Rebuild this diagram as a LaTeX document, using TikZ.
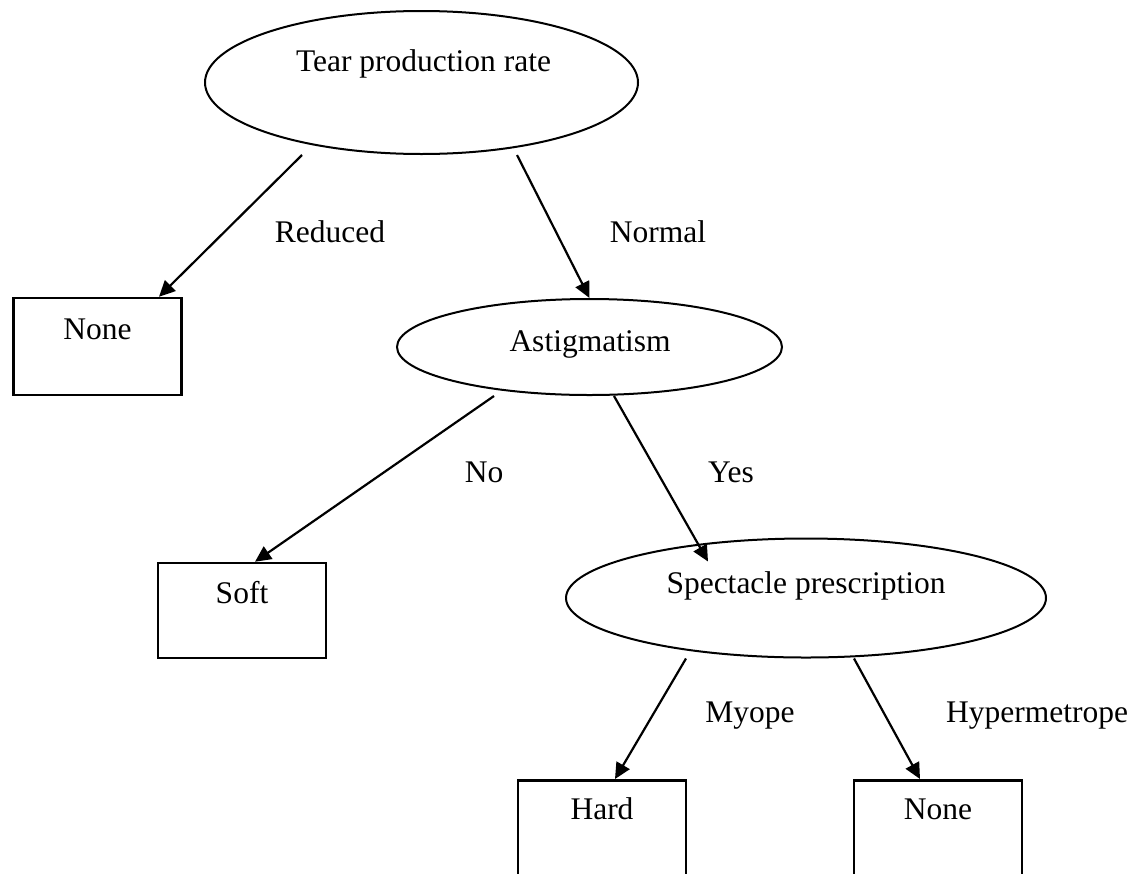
\documentclass[tikz,border=0pt]{standalone}
\usepackage{fontspec}
\setmainfont{Liberation Serif}
\usetikzlibrary{shapes.geometric,arrows.meta,calc}
\begin{document}
\begin{tikzpicture}[x=1pt,y=-1pt,
  decision/.style={ellipse,draw,line width=2pt,inner sep=0pt},
  leaf/.style={rectangle,draw,line width=2.5pt,inner sep=0pt,minimum width=168pt},
  txt/.style={anchor=base,inner sep=0pt,font=\fontsize{31.5}{38}\selectfont},
  branch/.style={line width=2.2pt,-{Triangle[length=16pt,width=15pt]}}]
\useasboundingbox (0,0) rectangle (1147,873);
\fill[white] (0,0) rectangle (1147,873);
\clip (0,0) rectangle (1147,873);
% decision nodes
\node[decision,minimum width=433pt,minimum height=143pt] (tear) at (421.5,82.5) {};
\node[decision,minimum width=385pt,minimum height=96pt] (astig) at (589.5,347) {};
\node[decision,minimum width=480pt,minimum height=119pt] (spec) at (806,598) {};
% leaves
\node[leaf,minimum height=97pt] (none1) at (97.5,346.5) {};
\node[leaf,minimum height=95pt] (soft) at (242,610.5) {};
\node[leaf,minimum height=160pt,anchor=north] (hard) at (602,779) {};
\node[leaf,minimum height=160pt,anchor=north] (none2) at (938,779) {};
% texts
\node[txt] (teartxt) at (423.5,71) {Tear production rate};
\node[txt] (astigtxt) at (590,351) {Astigmatism};
\node[txt] (spectxt) at (806,593) {Spectacle prescription};
\node[txt] (none1txt) at (97.5,339) {None};
\node[txt] (softtxt) at (242,603) {Soft};
\node[txt] (hardtxt) at (602,819) {Hard};
\node[txt] (none2txt) at (938,819) {None};
% branch labels
\node[txt] (reduced) at (330,242) {Reduced};
\node[txt] (normal) at (658,242) {Normal};
\node[txt] (no) at (484,482) {No};
\node[txt] (yes) at (731,482) {Yes};
\node[txt] (myope) at (750,722) {Myope};
\node[txt] (hyper) at (1037,722) {Hypermetrope};
% connectors
\draw[branch] ($(tear.south)+(-119.5,0)$) -- ($(none1.north)+(61.5,0)$);
\draw[branch] ($(tear.south)+(95.5,0)$) -- (astig.north);
\draw[branch] ($(astig.south)+(-95.5,0)$) -- ($(soft.north)+(13,0)$);
\draw[branch] ($(astig.south)+(24.5,0)$) -- ($(spec.north)+(-98,24)$);
\draw[branch] ($(spec.south)+(-120,0)$) -- ($(hard.north)+(13,0)$);
\draw[branch] ($(spec.south)+(48,0)$) -- ($(none2.north)+(-18,0)$);
\end{tikzpicture}
\end{document}
